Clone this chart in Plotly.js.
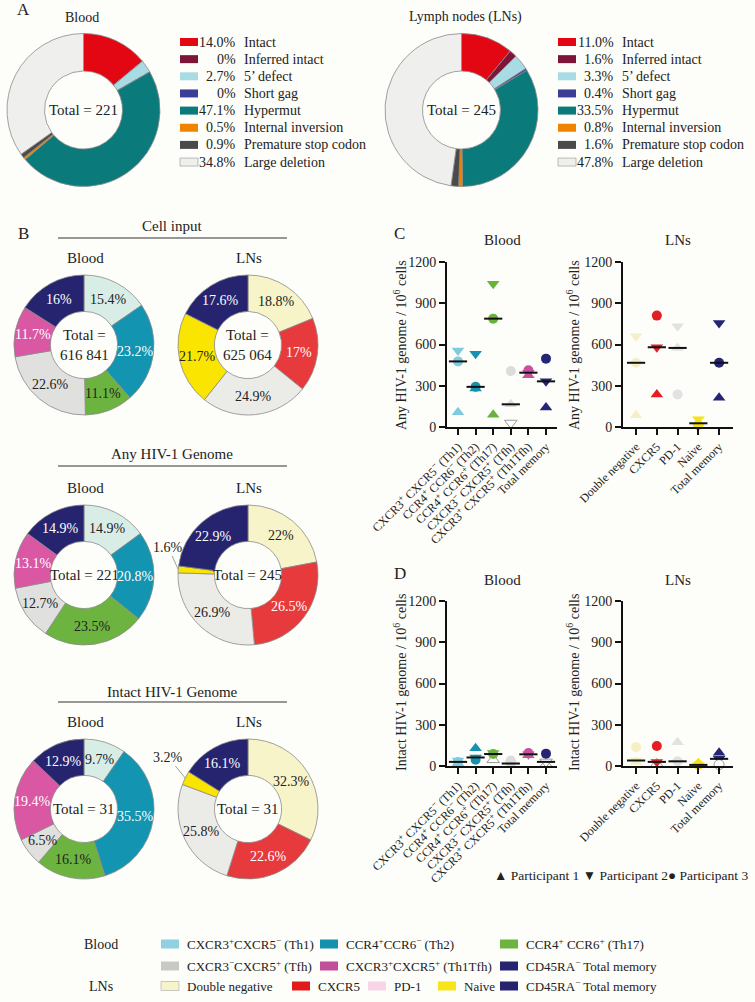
<!DOCTYPE html>
<html><head><meta charset="utf-8">
<script src="https://cdn.plot.ly/plotly-3.0.1.min.js"></script>
<style>html,body{margin:0;padding:0;background:#fdfdf9}</style>
</head><body><div id="chart" style="width:755px;height:1002px"></div>
<script>
// ---------- Panel A data ----------
const aCategories = ["Intact","Inferred intact","5’ defect","Short gag","Hypermut","Internal inversion","Premature stop codon","Large deletion"];
const aBloodPct = [14.0,0,2.7,0,47.1,0.5,0.9,34.8];
const aLNPct = [11.0,1.6,3.3,0.4,33.5,0.8,1.6,47.8];
const aBloodTotal = 221, aLNTotal = 245;
const aColors = ['#e30613','#7d1538','#a9dbe5','#3c3f97','#0b7a7a','#f08400','#4a4a4a','#efefed'];

// ---------- Panel B data ----------
const bBloodSubsets = ["Th1","Th2","Th17","Tfh","Th1Tfh","Total memory"];
const bLNSubsets = ["Double negative","CXCR5","PD-1","Naive","Total memory"];
const bBloodCellInput = [15.4,23.2,11.1,22.6,11.7,16];
const bLNCellInput = [18.8,17,24.9,21.7,17.6];
const bBloodAny = [14.9,20.8,23.5,12.7,13.1,14.9];
const bLNAny = [22,26.5,26.9,1.6,22.9];
const bBloodIntact = [9.7,35.5,16.1,6.5,19.4,12.9];
const bLNIntact = [32.3,22.6,25.8,3.2,16.1];
const bBloodTotals = ["Total =<br>616 841","Total = 221","Total = 31"];
const bLNTotals = ["Total =<br>625 064","Total = 245","Total = 31"];
const bSections = ["Cell input","Any HIV-1 Genome","Intact HIV-1 Genome"];
const bPieBloodColors = ['#d9ede7','#1394b1','#6cb43f','#e0e0de','#d957a3','#26246f'];
const bPieLNColors = ['#f8f4c9','#e63a3c','#ebebe8','#f9e500','#26246f'];

// ---------- Panels C / D data ----------
const bloodCats = ["CXCR3<sup>+</sup> CXCR5<sup>−</sup> (Th1)","CCR4<sup>+</sup> CCR6<sup>−</sup> (Th2)","CCR4<sup>+</sup> CCR6<sup>+</sup> (Th17)","CXCR3<sup>−</sup> CXCR5<sup>+</sup> (Tfh)","CXCR3<sup>+</sup> CXCR5<sup>+</sup> (Th1Tfh)","Total memory"];
const lnCats = ["Double negative","CXCR5","PD-1","Naive","Total memory"];
const cBloodP1 = [107,280,90,165,376,141];
const cBloodP2 = [557,533,1042,29,395,332];
const cBloodP3 = [477,292,788,407,412,497];
const cLNP1 = [85,237,575,27,213];
const cLNP2 = [660,580,733,56,757];
const cLNP3 = [467,810,237,12,467];
const dBloodP1 = [20,130,45,10,78,12];
const dBloodP2 = [40,62,95,18,85,30];
const dBloodP3 = [30,45,87,40,95,90];
const dLNP1 = [30,15,172,22,96];
const dLNP2 = [40,30,25,5,52];
const dLNP3 = [137,145,34,8,10];
const yTicks = [0,300,600,900,1200];
const bloodDotColors = ['#7fcbe0','#1692b0','#6ab23e','#dcdcdc','#c8519f','#262475'];
const lnDotColors = ['#f5f0c4','#e31e24','#e2e2e2','#f5e21a','#262475'];
const participants = ["Participant 1","Participant 2","Participant 3"];

// ---------- Bottom legend ----------
const legBloodLabels = ["CXCR3<sup>+</sup>CXCR5<sup>−</sup> (Th1)","CCR4<sup>+</sup>CCR6<sup>−</sup> (Th2)","CCR4<sup>+</sup> CCR6<sup>+</sup> (Th17)","CXCR3<sup>−</sup>CXCR5<sup>+</sup> (Tfh)","CXCR3<sup>+</sup>CXCR5<sup>+</sup> (Th1Tfh)","CD45RA<sup>−</sup> Total memory"];
const legBloodColors = ['#8fd0e1','#1691ad','#6db33f','#c8c8c6','#c24f9a','#25226f'];
const legLNLabels = ["Double negative","CXCR5","PD-1","Naive","CD45RA<sup>−</sup> Total memory"];
const legLNColors = ['#f8f4c9','#e31a1c','#f7d5e6','#f7e51a','#25226f'];

// ================= build =================
const W = 755, H = 1002;
const FONT = 'Liberation Serif, Times New Roman, serif';
const TXT = '#222';
const traces = [], annotations = [], shapes = [];
const X = v => v / W, Y = v => 1 - v / H;
function A(x, y, text, size, extra) {
  annotations.push(Object.assign({xref:'paper', yref:'paper', x:X(x), y:Y(y), text, showarrow:false,
    xanchor:'center', yanchor:'middle', font:{family:FONT, size:size||13, color:TXT}}, extra||{}));
}
function rect(x0, y0, x1, y1, fill, border) {
  shapes.push({type:'rect', xref:'paper', yref:'paper', x0:X(x0), x1:X(x1), y0:Y(y1), y1:Y(y0),
    fillcolor:fill, line:{width:border?0.8:0, color:border||fill}});
}
function hline(x0, x1, y) {
  shapes.push({type:'line', xref:'paper', yref:'paper', x0:X(x0), x1:X(x1), y0:Y(y), y1:Y(y), line:{color:'#333', width:1.2}});
}
function pie(values, colors, cx, cy, r, hole) {
  traces.push({type:'pie', values, marker:{colors, line:{color:'#8a8a8a', width:0.8}}, sort:false,
    direction:'clockwise', rotation:0, hole, textinfo:'none', hoverinfo:'skip', showlegend:false,
    domain:{x:[X(cx - r), X(cx + r)], y:[Y(cy + r), Y(cy - r)]}});
}
function lum(hex) { const n = parseInt(hex.slice(1), 16); return 0.299*(n>>16) + 0.587*((n>>8)&255) + 0.114*(n&255); }
function midAngle(values, i) {
  const tot = values.reduce((a,b)=>a+b, 0); let cum = 0;
  for (let k = 0; k < i; k++) cum += values[k];
  return 2*Math.PI*(cum + values[i]/2)/tot;
}
function sliceLabels(values, colors, cx, cy, r, hole, outside) {
  const rm = r*(1 + hole)/2;
  values.forEach((v, i) => {
    const th = midAngle(values, i);
    if (outside && outside.idx === i) {
      const tx = cx + r*Math.sin(th), ty = cy - r*Math.cos(th);
      annotations.push({xref:'paper', yref:'paper', x:X(tx), y:Y(ty), text:v + '%', showarrow:true,
        arrowhead:0, arrowwidth:0.8, arrowcolor:'#888', standoff:0, ax:outside.lx - tx, ay:outside.ly - ty,
        font:{family:FONT, size:14, color:TXT}});
      return;
    }
    A(cx + rm*Math.sin(th), cy - rm*Math.cos(th), v + '%', 14, {font:{family:FONT, size:14, color: lum(colors[i]) < 140 ? '#ffffff' : TXT}});
  });
}

// ---- Panel A ----
A(23, 9, 'A', 17);
const aR = 76.5, aHole = 0.51;
pie(aBloodPct, aColors, 83.5, 110, aR, aHole);
pie(aLNPct, aColors, 461.5, 110, aR, aHole);
A(83.5, 110, 'Total = ' + aBloodTotal, 15);
A(461.5, 110, 'Total = ' + aLNTotal, 15);
A(82, 17, 'Blood', 14);
A(465, 17, 'Lymph nodes (LNs)', 14);
function legendA(x0, vals) {
  vals.forEach((v, i) => {
    const y = 42 + i*17.15;
    rect(x0, y - 4, x0 + 18, y + 4, aColors[i], i === 7 ? '#aaa' : null);
    A(x0 + 58, y, (v === 0 ? '0' : v.toFixed(1)) + '%', 14, {xanchor:'right'});
    A(x0 + 62, y, aCategories[i], 14, {xanchor:'left'});
  });
}
legendA(180, aBloodPct);
legendA(558, aLNPct);

// ---- Panel B ----
A(23, 233, 'B', 17);
const bR = 70, bHole = 0.48;
const bCy = [345, 575, 809], bTitleY = [226, 454, 692], bLineY = [238, 466, 702], bSubY = [258, 488, 722];
const bBlood = [bBloodCellInput, bBloodAny, bBloodIntact];
const bLN = [bLNCellInput, bLNAny, bLNIntact];
const bOutside = [null, {idx:3, lx:168, ly:547}, {idx:3, lx:168, ly:757}];
for (let s = 0; s < 3; s++) {
  A(172, bTitleY[s], bSections[s], 15);
  hline(58, 287, bLineY[s]);
  A(85, bSubY[s], 'Blood', 15);
  A(249, bSubY[s], 'LNs', 15);
  pie(bBlood[s], bPieBloodColors, 84, bCy[s], bR, bHole);
  pie(bLN[s], bPieLNColors, 248, bCy[s], bR, bHole);
  sliceLabels(bBlood[s], bPieBloodColors, 84, bCy[s], bR, bHole, null);
  sliceLabels(bLN[s], bPieLNColors, 248, bCy[s], bR, bHole, bOutside[s]);
  A(84, bCy[s], bBloodTotals[s], 15);
  A(248, bCy[s], bLNTotals[s], 15);
}

// ---- Panels C / D ----
const symbols = ['triangle-up','triangle-down','circle'];
const sizes = [11, 11, 10];
function median3(a, b, c) { return [a, b, c].sort((p, q) => p - q)[1]; }
function dotPanel(xa, ya, cats, colors, series, hollow) {
  series.forEach((vals, p) => {
    const hs = hollow[p] || [];
    traces.push({type:'scatter', mode:'markers', x:cats, y:vals, xaxis:xa, yaxis:ya, cliponaxis:false,
      hoverinfo:'skip', showlegend:false,
      marker:{symbol:symbols[p], size:sizes[p],
        color:cats.map((_, i) => hs.includes(i) ? '#ffffff' : colors[i]),
        line:{width:cats.map((_, i) => hs.includes(i) ? 1 : 0), color:cats.map((_, i) => hs.includes(i) ? '#9a9a9a' : colors[i])}}});
  });
  traces.push({type:'scatter', mode:'markers', x:cats, xaxis:xa, yaxis:ya, cliponaxis:false, hoverinfo:'skip', showlegend:false,
    y:cats.map((_, i) => median3(series[0][i], series[1][i], series[2][i])),
    marker:{symbol:'line-ew', size:13, line:{width:2, color:'#111'}}});
}
dotPanel('x', 'y', bloodCats, bloodDotColors, [cBloodP1, cBloodP2, cBloodP3], [[], [3], []]);
dotPanel('x2', 'y2', lnCats, lnDotColors, [cLNP1, cLNP2, cLNP3], [[], [], []]);
dotPanel('x3', 'y3', bloodCats, bloodDotColors, [dBloodP1, dBloodP2, dBloodP3], [[2, 5], [5], []]);
dotPanel('x4', 'y4', lnCats, lnDotColors, [dLNP1, dLNP2, dLNP3], [[1], [], [4]]);

function xax(x0, x1, cats, anchor, lo, hi) {
  return {domain:[X(x0), X(x1)], anchor, type:'category', categoryarray:cats, range:[lo, hi],
    showline:true, linecolor:'#111', linewidth:2, ticks:'outside', ticklen:6, tickwidth:2, tickcolor:'#111',
    tickangle:-45, tickfont:{family:FONT, size:12, color:TXT}, showgrid:false, zeroline:false, fixedrange:true};
}
function yax(y0, y1, anchor) {
  return {domain:[Y(y1), Y(y0)], anchor, range:[0, 1200], tickvals:yTicks, showline:true, linecolor:'#111',
    linewidth:2, ticks:'outside', ticklen:6, tickwidth:2, tickcolor:'#111',
    tickfont:{family:FONT, size:14, color:TXT}, showgrid:false, zeroline:false, fixedrange:true};
}
A(399, 233, 'C', 17);
A(400, 573, 'D', 17);
A(502, 240, 'Blood', 15); A(678, 240, 'LNs', 15);
A(502, 580, 'Blood', 15); A(678, 580, 'LNs', 15);
const yTitleC = 'Any HIV-1 genome / 10<sup>6</sup> cells';
const yTitleD = 'Intact HIV-1 genome / 10<sup>6</sup> cells';
A(400, 345, yTitleC, 14, {textangle:-90});
A(573, 345, yTitleC, 14, {textangle:-90});
A(400, 683, yTitleD, 14, {textangle:-90});
A(573, 683, yTitleD, 14, {textangle:-90});
A(492, 875, '▲ ' + participants[0] + ' ▼ ' + participants[1] + '● ' + participants[2], 13.5, {xanchor:'left'});

// ---- Bottom legend ----
const legRowY = [944, 966, 986];
A(101, legRowY[0], 'Blood', 14);
A(101, legRowY[2], 'LNs', 14);
const legColX = [161, 320, 500];
legBloodLabels.forEach((t, i) => {
  const x0 = legColX[i % 3], y = legRowY[Math.floor(i / 3)];
  rect(x0, y - 4.5, x0 + 18, y + 4.5, legBloodColors[i]);
  A(x0 + 24, y, t, 13, {xanchor:'left'});
});
const legLNX = [161, 292, 368, 438, 500];
legLNLabels.forEach((t, i) => {
  const x0 = legLNX[i], y = legRowY[2];
  rect(x0, y - 4.5, x0 + 18, y + 4.5, legLNColors[i], i === 0 ? '#bbb' : null);
  A(x0 + 24, y, t, 13, {xanchor:'left'});
});

const layout = {
  width:W, height:H, margin:{l:0, r:0, t:0, b:0}, paper_bgcolor:'#fdfdf9', plot_bgcolor:'rgba(0,0,0,0)',
  showlegend:false, font:{family:FONT, color:TXT, size:13},
  xaxis:xax(447, 557, bloodCats, 'y', -0.625, 5.625),
  yaxis:yax(262, 427, 'x'),
  xaxis2:xax(623, 733, lnCats, 'y2', -0.63, 4.67),
  yaxis2:yax(262, 427, 'x2'),
  xaxis3:xax(447, 557, bloodCats, 'y3', -0.625, 5.625),
  yaxis3:yax(601, 766, 'x3'),
  xaxis4:xax(623, 733, lnCats, 'y4', -0.63, 4.67),
  yaxis4:yax(601, 766, 'x4'),
  annotations, shapes
};
Plotly.newPlot('chart', traces, layout, {displayModeBar:false, staticPlot:true});
</script></body></html>
